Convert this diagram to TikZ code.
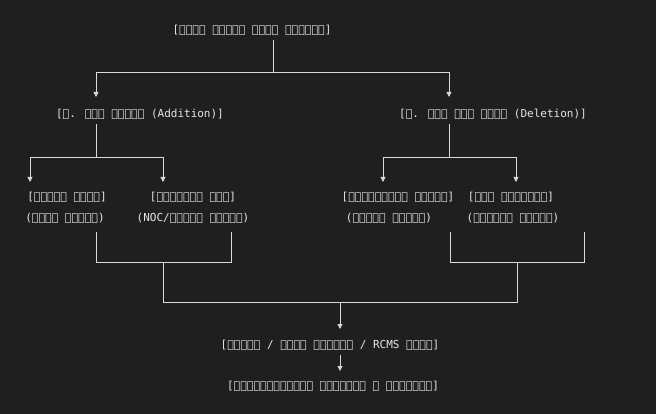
\documentclass[tikz,border=0pt]{standalone}
\usepackage{fontspec}
\setmainfont{DejaVu Sans Mono}
\usetikzlibrary{arrows.meta}
\begin{document}
\begin{tikzpicture}[x=1pt,y=-1pt,
  t/.style={text=white!90!black,font=\fontsize{11}{13}\selectfont,inner sep=1pt},
  ln/.style={draw=white!85!black,line width=0.8pt},
  ar/.style={ln,-{Triangle[width=5pt,length=5pt]}}]
\fill[black!88!white] (0,0) rectangle (656,414);
\useasboundingbox (0,0) rectangle (656,414);
\node[t] (r) at (252,30) {[राशन कार्ड सेवा पर्याय]};
\node[t] (a) at (140,114) {[१. नाव जोडणे (Addition)]};
\node[t] (d) at (493,114) {[२. नाव कमी करणे (Deletion)]};
\node[t] (a1) at (67,197) {[नवजात बालक]};
\node[t] at (65,218) {(जन्म दाखला)};
\node[t] (a2) at (193,197) {[विवाहित सून]};
\node[t] at (193,218) {(NOC/विवाह दाखला)};
\node[t] (d1) at (398,197) {[लग्नानंतर मुलगी]};
\node[t] at (389,218) {(विवाह दाखला)};
\node[t] (d2) at (511,197) {[मृत व्यक्ती]};
\node[t] at (513,218) {(मृत्यू दाखला)};
\node[t] (s) at (330,345) {[तहसील / सेतू केंद्र / RCMS अर्ज]};
\node[t] (v) at (333,386) {[कागदपत्रांची पडताळणी व सुधारणा]};
\draw[ln] (273,40) -- (273,72);
\draw[ln] (96,72) -- (449,72);
\draw[ar] (96,72) -- (96,97);
\draw[ar] (449,72) -- (449,97);
\draw[ln] (96,124) -- (96,157);
\draw[ln] (30,157) -- (163,157);
\draw[ar] (30,157) -- (30,182);
\draw[ar] (163,157) -- (163,182);
\draw[ln] (449,124) -- (449,157);
\draw[ln] (383,157) -- (516,157);
\draw[ar] (383,157) -- (383,182);
\draw[ar] (516,157) -- (516,182);
\draw[ln] (96,232) -- (96,262) -- (231,262) -- (231,232);
\draw[ln] (450,232) -- (450,262) -- (584,262) -- (584,232);
\draw[ln] (163,262) -- (163,302) -- (517,302) -- (517,262);
\draw[ar] (340,302) -- (340,329);
\draw[ar] (340,355) -- (340,371);
\end{tikzpicture}
\end{document}
